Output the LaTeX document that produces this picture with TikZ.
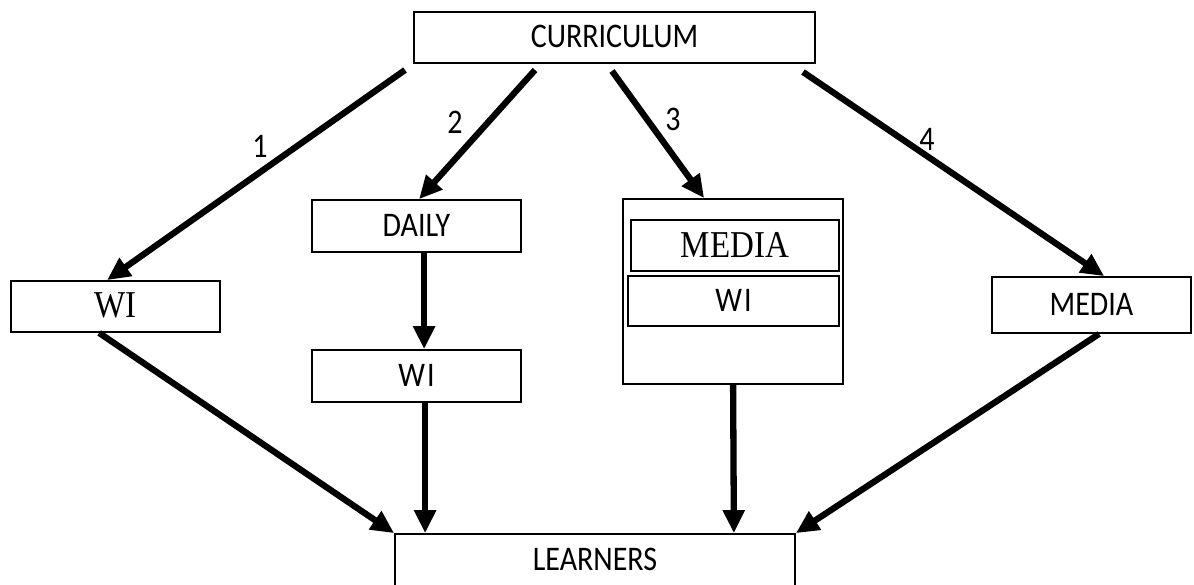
\documentclass[tikz,border=0pt]{standalone}
\usepackage{fontspec}
\newfontfamily\sansf{Carlito}
\newfontfamily\seriff{Liberation Serif}
\usetikzlibrary{arrows.meta}
\newcommand{\tall}[1]{\raisebox{2pt}{\scalebox{1}[1.15]{#1}}}
\begin{document}
\begin{tikzpicture}[x=1pt,y=-1pt,
  box/.style={draw, line width=1.8pt, inner sep=0pt, font=\sansf\fontsize{30}{36}\selectfont},
  sbox/.style={box, font=\seriff\fontsize{33}{38}\selectfont},
  arr/.style={line width=6.3pt, -{Triangle[length=23pt,width=21pt]}},
  lab/.style={font=\sansf\fontsize{30}{36}\selectfont, inner sep=0pt}]
\useasboundingbox (0,0) rectangle (1194,584);
\node[box, minimum width=401pt, minimum height=51pt] (cur) at (614.5,37.5) {\tall{CURRICULUM}};
\node[sbox, minimum width=209pt, minimum height=51pt] (wi1) at (115.5,306.5) {\tall{WI}};
\node[box, minimum width=209pt, minimum height=52pt] (daily) at (416.5,226) {\tall{DAILY}};
\node[box, minimum width=209pt, minimum height=52pt] (wi2) at (416.5,376) {\tall{W\kern2pt I}};
\node[draw, line width=1.8pt, minimum width=220pt, minimum height=185pt] (g3) at (733,291.5) {};
\node[sbox, minimum width=208pt, minimum height=51pt] (media1) at (735,245.5) {\tall{MEDIA}};
\node[box, minimum width=211pt, minimum height=50pt] (wi3) at (733.5,301) {\tall{W\kern2pt I}};
\node[box, minimum width=199pt, minimum height=56pt] (media2) at (1091.5,305) {\tall{MEDIA}};
\node[box, minimum width=400pt, minimum height=52pt] (learn) at (595,560) {\tall{LEARNERS}};
\coordinate (s1) at (405,70);
\coordinate (s2) at (535,70);
\coordinate (s3) at (612,71);
\coordinate (s4) at (803,72);
\draw[arr] (s1) -- ([xshift=97pt]wi1.north west);
\draw[arr] (s2) -- ([xshift=108pt]daily.north west);
\draw[arr] (s3) -- ([xshift=82pt]g3.north west);
\draw[arr] (s4) -- ([xshift=113pt]media2.north west);
\draw[arr] ([xshift=113pt]daily.south west) -- ([xshift=113pt]wi2.north west);
\draw[arr] ([xshift=89pt]wi1.south west) -- (learn.north west);
\draw[arr] ([xshift=114pt]wi2.south west) -- ([xshift=31pt]learn.north west);
\draw[arr] ([xshift=111pt]g3.south west) -- ([xshift=-62pt]learn.north east);
\draw[arr] ([xshift=108pt]media2.south west) -- (learn.north east);
\node[lab] (l1) at (260,147) {\tall{1}};
\node[lab] (l2) at (455,123) {\tall{2}};
\node[lab] (l3) at (673,120) {\tall{3}};
\node[lab] (l4) at (927,140) {\tall{4}};
\end{tikzpicture}
\end{document}
